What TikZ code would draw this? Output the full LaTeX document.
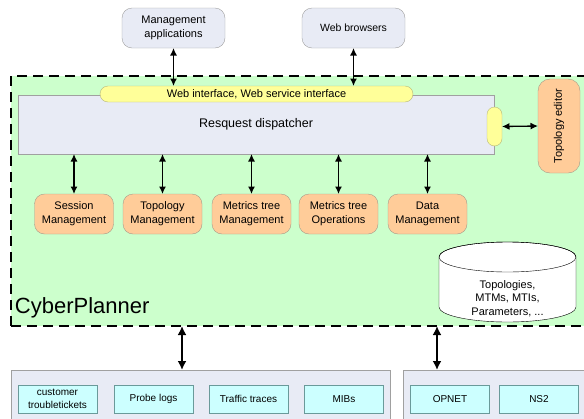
\documentclass[tikz,border=0pt]{standalone}
\usepackage{fontspec}
\setmainfont{Liberation Sans}
\usetikzlibrary{arrows.meta}
\definecolor{panelgray}{HTML}{E8EBF5}
\definecolor{edgegray}{HTML}{A0A0A0}
\definecolor{cpgreen}{HTML}{CCFFCC}
\definecolor{pillyellow}{HTML}{FFFF99}
\definecolor{pilledge}{HTML}{B8B87A}
\definecolor{modorange}{HTML}{FFCC99}
\definecolor{modedge}{HTML}{A89A88}
\definecolor{srccyan}{HTML}{CCFFFF}
\definecolor{srcedge}{HTML}{6A9A9A}
\begin{document}
\begin{tikzpicture}[x=1pt,y=-1pt,
  every node/.style={inner sep=0pt, outer sep=0pt, align=center,
    font=\fontsize{11}{14}\selectfont},
  client/.style={draw=edgegray, fill=panelgray, rounded corners=10pt,
    minimum width=103pt, minimum height=40pt},
  region/.style={draw=black, fill=cpgreen, line width=1.8pt,
    dash pattern=on 10pt off 6pt},
  panel/.style={draw=edgegray, fill=panelgray},
  pill/.style={draw=pilledge, fill=pillyellow},
  module/.style={draw=modedge, fill=modorange, rounded corners=10pt,
    minimum width=79pt, minimum height=40pt},
  source/.style={draw=srcedge, fill=srccyan, minimum width=79pt,
    minimum height=28pt, font=\fontsize{10}{12.5}\selectfont},
  link/.style={line width=1.3pt, {Latex[length=7.5pt,width=7pt]}-{Latex[length=7.5pt,width=7pt]}},
  biglink/.style={line width=2.4pt, {Latex[length=9pt,width=9pt]}-{Latex[length=9pt,width=9pt]}}
]
\useasboundingbox (0,0) rectangle (584,418);

% clients above the system
\node[client] (mgmt) at (173.5,28) {Management\\applications};
\node[client, font=\fontsize{10.5}{14}\selectfont] (web) at (353.5,28) {Web browsers};

% CyberPlanner area
\node[region, minimum width=579pt, minimum height=250pt] (cp) at (300.5,201) {};
\node[anchor=base west, font=\fontsize{22}{26}\selectfont] (cpname) at (15,313) {CyberPlanner};

% dispatcher and its interfaces
\node[panel, minimum width=476pt, minimum height=59pt,
  font=\fontsize{12.5}{15}\selectfont] (disp) at (256,124.5) {Resquest dispatcher};
\node[pill, rounded corners=8pt, minimum width=313pt, minimum height=16pt]
  (iface) at (256.5,94) {Web interface, Web service interface};
\node[pill, rounded corners=7.5pt, minimum width=15pt, minimum height=39pt]
  (side) at (494.5,126.5) {};
\node[module, rotate=90, rounded corners=12pt, minimum width=94pt,
  minimum height=42pt] (topo) at (559,126) {Topology editor};

% management modules
\node[module] (m1) at (74,214) {Session\\Management};
\node[module] (m2) at (162.5,214) {Topology\\Management};
\node[module] (m3) at (251.5,214) {Metrics tree\\Management};
\node[module] (m4) at (338.5,214) {Metrics tree\\Operations};
\node[module] (m5) at (427.5,214) {Data\\Management};

% data store
\draw[fill=white] (439,257) -- (439,307)
  arc[start angle=180, end angle=0, x radius=68.5, y radius=15]
  -- (576,257)
  arc[start angle=0, end angle=-180, x radius=68.5, y radius=15] -- cycle;
\draw (507.5,257) ellipse[x radius=68.5, y radius=15];
\node[font=\fontsize{11}{13.5}\selectfont] (store) at (507.5,298.5)
  {Topologies,\\MTMs, MTIs,\\Parameters, ...};

% external data sources
\node[panel, minimum width=379pt, minimum height=60pt] (srcs) at (200.5,400) {};
\node[source] (s1) at (57.5,399) {customer\\troubletickets};
\node[source] (s2) at (153.5,399) {Probe logs};
\node[source] (s3) at (248.5,399) {Traffic traces};
\node[source] (s4) at (344,399) {MIBs};
\node[panel, minimum width=200pt, minimum height=60pt] (sims) at (503,400) {};
\node[source] (s5) at (450,399) {OPNET};
\node[source] (s6) at (539,399) {NS2};

% connectors
\draw[link] (mgmt.south) -- (mgmt.south |- iface.north);
\draw[link] (web.south) -- (web.south |- iface.north);
\draw[link] (side.east) -- (topo.north);
\foreach \m in {m1,m2,m3,m4,m5}
  \draw[link] (\m.north |- disp.south) -- (\m.north);
\coordinate (out1) at (182,326);
\coordinate (out2) at (437,326);
\draw[biglink] (out1) -- (out1 |- srcs.north);
\draw[biglink] (out2) -- (out2 |- sims.north);
\end{tikzpicture}
\end{document}
